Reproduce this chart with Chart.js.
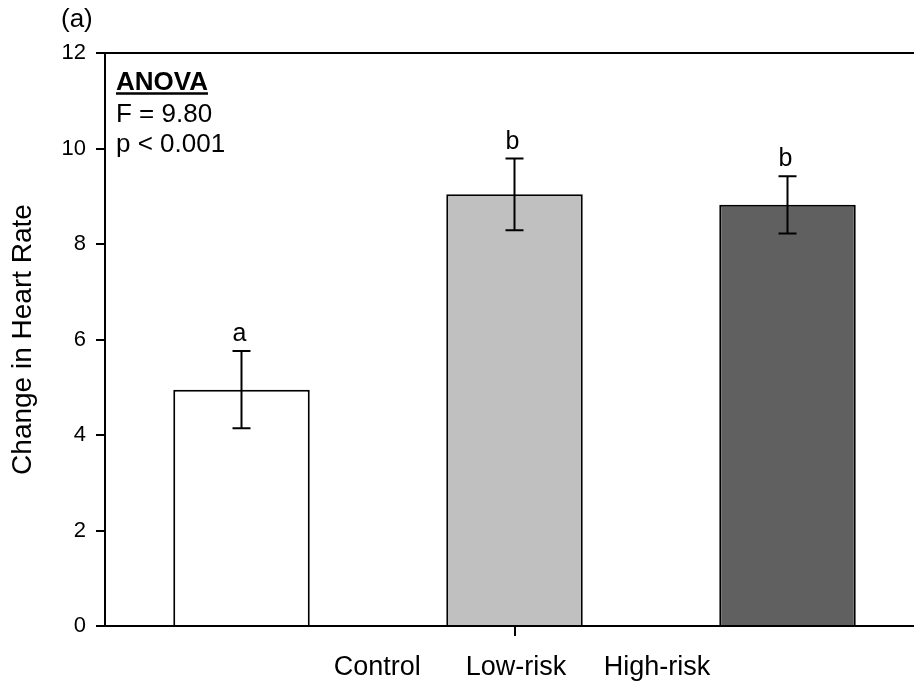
<!DOCTYPE html>
<html>
<head>
<meta charset="utf-8">
<script src="https://cdn.jsdelivr.net/npm/chart.js@4/dist/chart.umd.min.js"></script>
<style>
  html, body { margin: 0; padding: 0; background: #ffffff; overflow: hidden; }
  #wrap { width: 914px; height: 688px; overflow: hidden; }
  canvas { display: block; }
</style>
</head>
<body>
<div id="wrap"><canvas id="c" width="924" height="688"></canvas></div>
<script>
// ---- data ----
const categories = ['Control', 'Low-risk', 'High-risk'];
const meanChange = [4.95, 9.04, 8.82];
const stdError = [0.81, 0.75, 0.60];
const groupLetters = ['a', 'b', 'b'];
const barColors = ['#ffffff', '#c0c0c0', '#606060'];
const yMin = 0, yMax = 12, yStep = 2;
const xAxisTitle = '\u00A0\u00A0Control\u00A0\u00A0\u00A0\u00A0\u00A0\u00A0Low-risk\u00A0\u00A0\u00A0\u00A0\u00A0High-risk';
const yAxisTitle = 'Change in Heart Rate';
const panelLabel = '(a)';
const anovaLines = ['ANOVA', 'F = 9.80', 'p < 0.001'];

const FONT = '"Liberation Sans", Arial, Helvetica, sans-serif';

const annotate = {
  id: 'annotate',
  afterDatasetsDraw(chart) {
    const ctx = chart.ctx;
    const y = chart.scales.y;
    const area = chart.chartArea;
    const meta = chart.getDatasetMeta(0);
    ctx.save();
    // top frame line
    ctx.strokeStyle = '#000';
    ctx.lineWidth = 2;
    ctx.beginPath();
    ctx.moveTo(area.left - 9, area.top);
    ctx.lineTo(area.right, area.top);
    ctx.stroke();
    // error bars + letters
    meta.data.forEach((bar, i) => {
      const x = bar.x;
      const yTop = y.getPixelForValue(meanChange[i] + stdError[i]);
      const yBot = y.getPixelForValue(meanChange[i] - stdError[i]);
      ctx.beginPath();
      ctx.moveTo(x, yTop); ctx.lineTo(x, yBot);
      ctx.moveTo(x - 9, yTop); ctx.lineTo(x + 9, yTop);
      ctx.moveTo(x - 9, yBot); ctx.lineTo(x + 9, yBot);
      ctx.stroke();
      ctx.fillStyle = '#000';
      ctx.font = '25px ' + FONT;
      ctx.textAlign = 'center';
      ctx.textBaseline = 'alphabetic';
      ctx.fillText(groupLetters[i], x - 2, yTop - 10);
    });
    // ANOVA block
    ctx.textAlign = 'left';
    ctx.textBaseline = 'alphabetic';
    const ax = area.left + 11;
    ctx.font = 'bold 26px ' + FONT;
    ctx.fillText(anovaLines[0], ax, area.top + 37);
    const w = ctx.measureText(anovaLines[0]).width;
    ctx.lineWidth = 2.5;
    ctx.beginPath();
    ctx.moveTo(ax, area.top + 40.5);
    ctx.lineTo(ax + w, area.top + 40.5);
    ctx.stroke();
    ctx.font = '26px ' + FONT;
    ctx.fillText(anovaLines[1], ax, area.top + 69);
    ctx.fillText(anovaLines[2], ax, area.top + 99);
    // panel label
    ctx.font = '26px ' + FONT;
    ctx.fillText(panelLabel, area.left - 44, 27);
    ctx.restore();
  }
};

new Chart(document.getElementById('c'), {
  type: 'bar',
  data: {
    labels: categories,
    datasets: [{
      data: meanChange,
      backgroundColor: barColors,
      borderColor: '#000000',
      borderWidth: 2,
      borderSkipped: 'bottom',
      barPercentage: 0.5,
      categoryPercentage: 1.0
    }]
  },
  options: {
    responsive: false,
    animation: false,
    devicePixelRatio: 1,
    layout: { padding: { top: 53, right: 0, bottom: 0, left: 0 } },
    plugins: { legend: { display: false }, tooltip: { enabled: false }, title: { display: false } },
    scales: {
      x: {
        offset: true,
        grid: {
          display: true,
          offset: false,
          drawOnChartArea: false,
          drawTicks: true,
          tickLength: 10,
          lineWidth: 2,
          color: (c) => (c.index === 1 ? '#000000' : 'rgba(0,0,0,0)')
        },
        border: { display: true, color: '#000000', width: 2 },
        ticks: { display: false },
        title: {
          display: true,
          text: xAxisTitle,
          color: '#000000',
          font: { family: FONT, size: 27 },
          padding: { top: 0, bottom: 4 }
        },
        afterFit(scale) { scale.height = 62; }
      },
      y: {
        min: yMin,
        max: yMax,
        grid: {
          display: true,
          drawOnChartArea: false,
          drawTicks: true,
          tickLength: 9,
          lineWidth: 2,
          color: '#000000'
        },
        border: { display: true, color: '#000000', width: 2 },
        ticks: {
          stepSize: yStep,
          color: '#000000',
          padding: 10,
          font: { family: FONT, size: 22 }
        },
        title: {
          display: true,
          text: yAxisTitle,
          color: '#000000',
          font: { family: FONT, size: 28 },
          padding: { top: 6, bottom: 0 }
        },
        afterFit(scale) { scale.width = 105; }
      }
    }
  },
  plugins: [annotate]
});
</script>
</body>
</html>
